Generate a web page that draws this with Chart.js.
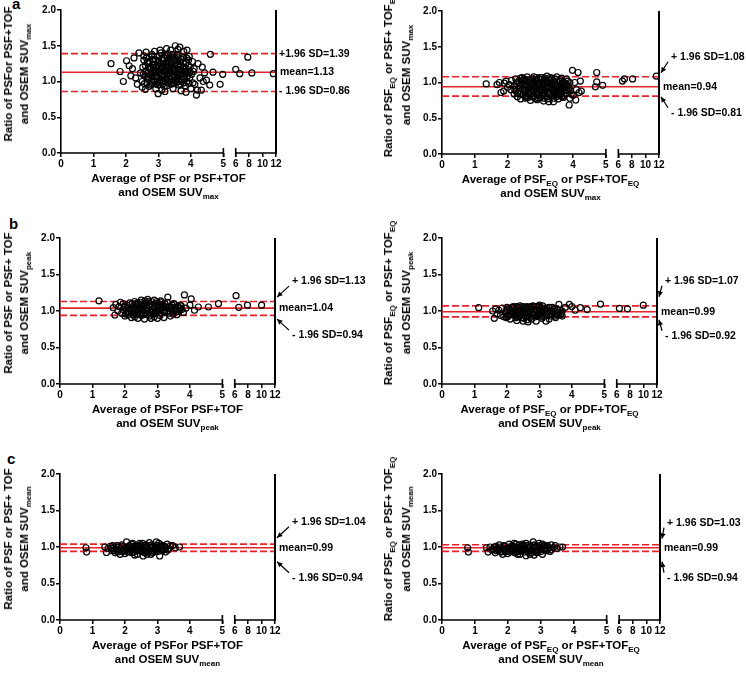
<!DOCTYPE html>
<html>
<head>
<meta charset="utf-8">
<script src="https://cdn.jsdelivr.net/npm/chart.js@4.4.1/dist/chart.umd.min.js"></script>
<style>
    body { margin: 0; background: #fff; }
    #fig { position: relative; width: 746px; height: 673px; overflow: hidden;
           font-family: "Liberation Sans", Arial, sans-serif; font-weight: bold; color: #000; }
    #fig canvas { position: absolute; }
    .xt, .yt { position: absolute; white-space: nowrap; text-align: center; font-size: 11.5px; }
    .xt { transform: translateX(-50%); line-height: 13.5px; }
    .yt { transform: translate(-50%, -50%) rotate(-90deg); line-height: 16px; }
    .yt.r { line-height: 18px; }
    sub { font-size: 8px; vertical-align: -3px; line-height: 0; }
    .lt { position: absolute; font-size: 15px; line-height: 15px; }
</style>
</head>
<body>
<div id="fig">
    <div class="lt" style="left:12px;top:-4px">a</div>
    <div class="lt" style="left:9px;top:216px">b</div>
    <div class="lt" style="left:7px;top:451px">c</div>
</div>
<script>
const xTicks = [0, 1, 2, 3, 4, 5, 6, 8, 10, 12];
const yTicks = [0, 0.5, 1, 1.5, 2];

// upper limit, mean, lower limit
const limMaxPsf = [1.39, 1.13, 0.86];
const limMaxEq = [1.08, 0.94, 0.81];
const limPeakPsf = [1.13, 1.04, 0.94];
const limPeakEq = [1.07, 0.99, 0.92];
const limMeanPsf = [1.04, 0.99, 0.94];
const limMeanEq = [1.03, 0.99, 0.94];

// [average, ratio]
const ptsMaxPsf = [
    [1.54,1.25],[1.82,1.14],[1.92,1.00],[2.02,1.29],[2.1,1.22],[2.2,1.18],[2.15,1.08],[2.25,1.33],[2.3,1.05],[2.35,0.96],
    [2.4,1.4],[2.45,1.12],[2.5,0.92],[2.55,1.36],[2.62,1.41],[2.6,0.89],[2.7,1.25],[2.75,0.95],[2.8,1.38],[2.85,1.02],
    [2.88,1.42],[2.92,0.9],[2.99,0.83],[3.05,1.44],[3.1,0.88],[3.2,0.86],[3.25,1.46],[3.3,1.39],[3.38,1.44],[3.45,0.9],
    [3.52,1.5],[3.6,1.45],[3.66,1.48],[3.7,0.87],[3.78,1.42],[3.88,1.44],[3.85,0.85],[3.95,1.35],[4.0,0.9],[4.05,1.28],
    [4.1,1.18],[4.12,0.96],[4.17,0.81],[4.2,0.88],[4.22,1.25],[4.28,1.05],[4.32,0.88],[4.35,1.2],[4.38,1.0],[4.42,1.12],
    [4.48,1.02],[4.58,0.95],[4.6,1.38],[4.68,1.13],[4.9,0.96],[4.98,1.1],
    [6.0,1.17],[6.6,1.11],[7.8,1.34],[8.4,1.12],[11.6,1.11],
    [2.5,1.0],[2.52,1.2],[2.55,1.3],[2.58,1.08],[2.62,1.15],[2.65,0.98],[2.66,1.27],[2.7,1.05],[2.72,1.34],[2.74,1.18],
    [2.78,0.97],[2.8,1.1],[2.82,1.23],[2.85,1.31],[2.88,1.0],[2.9,1.14],[2.92,1.2],[2.95,1.07],[2.97,1.35],[3.0,0.95],
    [3.02,1.27],[3.04,1.12],[3.06,1.02],[3.08,1.18],[3.1,1.32],[3.12,1.08],[3.14,0.97],[3.16,1.24],[3.18,1.14],[3.2,1.37],
    [3.22,1.03],[3.24,1.2],[3.26,0.94],[3.28,1.29],[3.3,1.1],[3.32,1.16],[3.35,1.0],[3.37,1.34],[3.4,1.22],[3.42,1.06],
    [3.44,1.13],[3.46,1.3],[3.48,0.97],[3.5,1.18],[3.52,1.25],[3.55,1.04],[3.57,1.36],[3.6,1.1],[3.62,0.95],[3.64,1.21],
    [3.67,1.28],[3.7,1.02],[3.72,1.15],[3.75,1.33],[3.78,0.98],[3.8,1.2],[3.82,1.08],[3.85,1.26],[3.88,1.0],[3.9,1.14],
    [3.93,1.3],[3.96,1.05],[3.98,1.2],[4.02,1.1],[4.06,0.98],[4.08,1.14],[2.68,1.12],[2.84,1.28],[3.0,1.16],[3.15,1.06],
    [3.34,1.26],[3.5,1.08],[3.66,1.17],[3.84,1.12],[2.96,1.0],[3.26,1.12],[3.56,0.99],[2.76,1.2],[3.44,1.38],[3.08,1.4],
    [2.53,1.1],[2.57,0.97],[2.6,1.22],[2.63,1.33],[2.67,1.04],[2.69,1.19],[2.71,0.93],[2.73,1.28],[2.77,1.08],[2.79,1.36],
    [2.81,0.99],[2.83,1.16],[2.87,1.24],[2.89,1.07],[2.91,1.3],[2.93,0.96],[2.94,1.13],[2.98,1.22],[3.01,1.05],[3.03,1.36],
    [3.05,0.98],[3.07,1.25],[3.09,1.1],[3.11,1.2],[3.13,1.29],[3.15,1.0],[3.17,1.33],[3.19,1.09],[3.21,1.17],[3.23,1.26],
    [3.25,1.04],[3.27,1.36],[3.29,0.98],[3.31,1.21],[3.33,1.07],[3.36,1.3],[3.38,1.14],[3.39,0.96],[3.41,1.27],[3.43,1.01],
    [3.45,1.2],[3.47,1.09],[3.49,1.34],[3.51,1.02],[3.53,1.14],[3.54,1.29],[3.58,1.06],[3.59,1.23],[3.61,1.33],[3.63,1.0],
    [3.65,1.12],[3.68,0.96],[3.69,1.22],[3.71,1.31],[3.73,1.07],[3.76,1.19],[3.77,1.27],[3.79,1.03],[3.81,1.14],[3.83,0.94],
    [3.86,1.18],[3.87,1.33],[3.89,1.07],[3.92,1.22],[3.94,0.97],[3.97,1.13],[2.64,1.06],[2.86,1.12],[3.03,1.21],[3.24,1.15],
    [3.46,1.16],[3.69,1.1],[2.99,1.29],[3.33,1.33],[3.18,0.93],[3.58,1.38]
];
const ptsMaxEq = [
    [1.35,0.98],[1.68,0.97],[1.75,1.0],[1.8,0.86],[1.88,0.88],[1.9,0.99],[1.95,1.02],[2.0,0.93],[2.05,0.97],[2.1,0.9],
    [2.12,1.03],[2.2,0.84],[2.25,1.05],[2.3,0.8],[2.4,0.77],[2.45,1.07],[2.55,0.78],[2.6,1.08],[2.7,0.75],[2.8,1.08],
    [2.9,0.76],[3.0,1.07],[3.1,0.74],[3.2,1.09],[3.26,0.73],[3.35,1.06],[3.4,0.73],[3.5,1.08],[3.55,0.77],[3.65,1.06],
    [3.7,0.79],[3.8,1.05],[3.88,0.685],[3.9,0.78],[3.98,1.17],[4.0,0.82],[4.05,1.0],[4.08,0.755],[4.1,0.9],[4.15,1.14],
    [4.18,0.86],[4.22,1.02],[4.25,0.88],[4.68,0.94],[4.72,1.01],[4.9,0.96],[4.72,1.14],
    [6.6,1.02],[6.9,1.05],[8.1,1.05],[11.6,1.09],
    [2.2,0.95],[2.25,0.88],[2.3,1.0],[2.35,0.92],[2.38,0.84],[2.42,0.97],[2.46,1.03],[2.5,0.89],[2.52,0.94],[2.56,0.82],
    [2.6,1.0],[2.63,0.91],[2.66,0.86],[2.68,1.04],[2.72,0.95],[2.75,0.8],[2.78,0.99],[2.8,0.88],[2.84,1.02],[2.86,0.92],
    [2.9,0.83],[2.92,0.97],[2.95,1.05],[2.98,0.89],[3.0,0.79],[3.02,0.94],[3.05,1.0],[3.08,0.86],[3.1,0.96],[3.12,1.04],
    [3.15,0.81],[3.18,0.91],[3.2,0.99],[3.23,0.87],[3.26,1.03],[3.28,0.94],[3.3,0.83],[3.33,0.98],[3.36,0.9],[3.4,1.02],
    [3.43,0.85],[3.46,0.95],[3.5,0.88],[3.53,1.0],[3.56,0.92],[3.6,0.82],[3.63,0.97],[3.66,0.89],[3.7,1.01],[3.74,0.93],
    [3.78,0.85],[3.82,0.96],[3.86,0.9],[3.9,1.0],[3.94,0.84],[2.62,0.79],[2.94,0.78],[3.22,0.77],[3.48,0.8],[2.4,1.06],
    [2.88,1.07],[3.14,1.06],[3.6,1.04],[2.7,0.9],[3.38,0.93],[3.0,0.91],[3.75,0.95],
    [2.22,0.9],[2.27,0.98],[2.31,0.86],[2.34,1.02],[2.37,0.95],[2.41,0.88],[2.44,0.99],[2.47,0.83],[2.49,0.96],[2.53,1.04],
    [2.55,0.9],[2.58,0.97],[2.61,0.85],[2.64,1.02],[2.67,0.93],[2.69,0.82],[2.71,0.99],[2.74,0.89],[2.76,1.05],[2.79,0.93],
    [2.82,0.81],[2.83,0.97],[2.87,0.87],[2.89,1.03],[2.91,0.91],[2.94,0.85],[2.97,0.99],[2.99,0.93],[3.01,1.04],[3.04,0.88],
    [3.06,0.82],[3.09,0.98],[3.11,0.9],[3.13,0.84],[3.16,1.01],[3.19,0.95],[3.21,0.8],[3.24,0.92],[3.27,0.98],[3.29,0.86],
    [3.31,1.04],[3.34,0.93],[3.37,0.82],[3.39,0.97],[3.42,0.89],[3.44,1.05],[3.47,0.92],[3.49,0.84],[3.52,0.96],[3.55,0.87],
    [3.58,1.02],[3.61,0.91],[3.64,0.85],[3.67,0.99],[3.69,0.93],[3.72,0.82],[3.76,0.98],[3.8,0.89],[3.84,1.02],[3.88,0.93],
    [3.92,0.88],[2.57,0.8],[2.85,0.78],[3.12,0.78],[3.41,0.78],[3.66,0.8],[2.5,1.05],[3.06,1.07],[3.3,1.07]
];
const ptsPeakPsf = [
    [1.2,1.14],[1.64,1.045],[1.69,0.945],[1.72,1.09],[1.78,1.0],[1.82,1.06],[1.86,1.12],[1.9,0.97],[1.95,1.1],[2.0,0.93],
    [2.1,0.95],[2.2,0.91],[2.3,1.13],[2.4,0.9],[2.5,1.15],[2.6,0.89],[2.7,1.16],[2.8,0.9],[2.9,1.15],[3.0,0.9],
    [3.1,1.14],[3.2,0.91],[3.32,1.19],[3.4,0.93],[3.5,1.1],[3.6,0.95],[3.7,1.08],[3.8,0.98],[3.83,1.22],[3.88,1.04],
    [4.0,1.08],[4.04,1.165],[4.14,1.01],[4.26,1.055],[4.57,1.055],[4.88,1.1],
    [6.2,1.21],[6.6,1.05],[7.9,1.08],[10.0,1.08],
    [1.95,1.02],[2.0,1.07],[2.05,0.98],[2.1,1.04],[2.15,1.11],[2.2,1.0],[2.25,1.06],[2.28,0.95],[2.32,1.02],[2.36,1.09],
    [2.4,0.98],[2.44,1.05],[2.48,1.12],[2.52,0.94],[2.56,1.01],[2.6,1.08],[2.64,0.97],[2.68,1.04],[2.72,1.13],[2.76,0.93],
    [2.8,1.0],[2.84,1.07],[2.88,0.96],[2.92,1.03],[2.96,1.1],[3.0,0.99],[3.04,1.05],[3.08,0.94],[3.12,1.02],[3.16,1.09],
    [3.2,0.98],[3.25,1.05],[3.3,1.12],[3.35,0.97],[3.4,1.03],[3.45,1.08],[3.5,1.0],[3.55,1.05],[3.6,1.02],[3.65,0.99],
    [3.7,1.04],[3.75,1.02],[2.3,0.92],[2.62,1.14],[2.9,0.92],[3.1,1.12],[2.5,1.03],[2.78,1.1],[3.22,1.01],[2.42,1.1],
    [1.98,1.05],[2.02,0.96],[2.07,1.08],[2.12,0.99],[2.17,1.03],[2.22,1.1],[2.27,0.98],[2.3,1.04],[2.34,0.96],[2.38,1.11],
    [2.42,1.01],[2.46,0.95],[2.5,1.08],[2.54,1.03],[2.58,0.96],[2.62,1.11],[2.66,1.01],[2.7,0.95],[2.74,1.07],[2.78,0.98],
    [2.82,1.13],[2.86,1.02],[2.9,1.06],[2.94,0.97],[2.98,1.13],[3.02,1.02],[3.06,1.09],[3.1,0.97],[3.14,1.05],[3.18,1.0],
    [3.23,1.1],[3.28,0.99],[3.33,1.06],[3.38,1.0],[3.43,1.05],[3.48,0.96],[3.53,1.09],[3.58,0.99],[3.63,1.06],[3.68,1.01],
    [3.73,1.07],[2.56,1.06],[2.84,0.99],[3.0,1.07],[2.26,1.01],[3.2,1.05]
];
const ptsPeakEq = [
    [1.13,1.045],[1.56,1.0],[1.61,0.9],[1.65,1.03],[1.7,0.96],[1.75,1.01],[1.8,0.94],[1.85,1.04],[1.9,0.92],[2.0,1.05],
    [2.1,0.89],[2.2,1.06],[2.3,0.87],[2.4,1.07],[2.5,0.86],[2.6,1.06],[2.65,0.85],[2.8,1.07],[2.9,0.86],[3.0,1.08],
    [3.2,0.86],[3.1,1.07],[3.3,0.89],[3.4,1.05],[3.5,0.91],[3.6,1.09],[3.7,0.93],[3.8,1.05],[3.92,1.09],[4.0,1.06],
    [4.1,1.01],[4.26,1.045],[4.47,1.02],[4.88,1.095],
    [6.4,1.035],[7.6,1.03],[9.96,1.08],
    [1.95,0.98],[2.0,1.02],[2.05,0.94],[2.1,1.0],[2.15,1.05],[2.2,0.96],[2.25,1.02],[2.28,0.91],[2.32,0.98],[2.36,1.04],
    [2.4,0.94],[2.44,1.0],[2.48,1.06],[2.52,0.9],[2.56,0.97],[2.6,1.03],[2.64,0.93],[2.68,1.0],[2.72,1.06],[2.76,0.89],
    [2.8,0.96],[2.84,1.02],[2.88,0.92],[2.92,0.99],[2.96,1.05],[3.0,0.95],[3.04,1.01],[3.08,0.9],[3.12,0.98],[3.16,1.04],
    [3.2,0.94],[3.25,1.0],[3.3,1.05],[3.35,0.93],[3.4,0.99],[3.45,1.03],[3.5,0.96],[3.55,1.01],[3.6,0.98],[3.65,0.95],
    [3.7,1.0],[2.3,1.06],[2.62,0.88],[2.9,1.06],[3.1,0.92],[2.5,0.99],[2.78,1.03],[3.22,0.97],[2.42,1.02],[1.98,0.91],
    [1.98,1.0],[2.02,0.92],[2.07,1.03],[2.12,0.95],[2.17,0.99],[2.22,1.05],[2.27,0.93],[2.3,0.99],[2.34,0.92],[2.38,1.05],
    [2.42,0.97],[2.46,0.91],[2.5,1.03],[2.54,0.98],[2.58,0.92],[2.62,1.05],[2.66,0.97],[2.7,0.91],[2.74,1.02],[2.78,0.94],
    [2.82,1.06],[2.86,0.98],[2.9,1.01],[2.94,0.93],[2.98,1.06],[3.02,0.97],[3.06,1.04],[3.1,0.94],[3.14,1.0],[3.18,0.96],
    [3.23,1.04],[3.28,0.95],[3.33,1.01],[3.38,0.96],[3.43,1.0],[3.48,0.93],[3.53,1.03],[3.58,0.95],[3.63,1.01],[3.68,0.97],
    [2.56,1.01],[2.84,0.95],[3.0,1.02],[2.26,0.97],[3.2,1.0]
];
const ptsMeanPsf = [
    [0.8,0.99],[0.82,0.93],[1.38,1.0],[1.43,0.925],[1.48,0.98],[1.55,1.01],[1.6,0.95],[1.65,0.99],[1.7,0.92],[1.75,1.02],
    [1.8,0.96],[1.85,0.9],[1.9,1.03],[1.95,0.97],[2.0,0.91],[2.05,1.07],[2.1,1.0],[2.15,0.93],[2.2,1.04],[2.25,0.97],
    [2.3,0.89],[2.35,1.02],[2.4,0.95],[2.45,1.05],[2.5,0.99],[2.56,0.877],[2.6,0.92],[2.65,1.03],[2.7,0.97],[2.75,1.06],
    [2.8,0.9],[2.85,1.0],[2.9,0.94],[2.97,1.07],[3.0,0.98],[3.07,0.877],[3.1,1.03],[3.15,0.95],[3.2,1.01],[3.25,0.93],
    [3.3,1.04],[3.35,0.98],[3.4,1.02],[3.47,1.02],[3.55,0.99],[3.68,1.0],[1.62,1.02],[1.72,0.97],[1.92,0.94],[2.02,1.0],
    [2.12,0.97],[2.22,0.92],[2.32,0.96],[2.42,1.0],[2.52,0.94],[2.62,0.98],[2.72,0.93],[2.82,1.03],[2.92,0.98],[3.02,0.94],
    [3.12,0.99],[2.18,1.01],[2.48,1.03],[2.78,0.99],[3.22,0.97],[1.82,1.0],[2.38,0.9],[2.68,0.9],
    [1.58,0.98],[1.66,0.95],[1.74,1.0],[1.78,0.93],[1.86,0.98],[1.9,1.01],[1.98,0.95],[2.06,0.98],[2.08,0.93],[2.14,1.02],
    [2.2,0.96],[2.26,1.01],[2.28,0.93],[2.36,0.98],[2.44,0.96],[2.46,1.01],[2.54,0.97],[2.58,1.02],[2.64,0.95],[2.68,1.0],
    [2.74,0.96],[2.76,1.02],[2.84,0.95],[2.88,1.01],[2.94,0.96],[2.98,1.02],[3.04,0.97],[3.08,1.01],[3.14,0.96],[3.18,1.02],
    [3.26,0.99],[3.32,0.96],[2.54,1.05],[2.86,0.92],[2.24,1.05],[3.04,1.05]
];
const ptsMeanEq = [
    [0.78,0.99],[0.8,0.93],[1.35,0.99],[1.4,0.93],[1.46,1.0],[1.52,0.96],[1.58,1.0],[1.62,0.92],[1.68,0.98],[1.74,1.03],
    [1.78,0.94],[1.84,0.9],[1.88,1.02],[1.94,0.97],[1.99,0.91],[2.04,1.04],[2.09,0.99],[2.14,0.94],[2.19,1.05],[2.24,0.96],
    [2.3,0.9],[2.34,1.03],[2.39,0.94],[2.44,1.04],[2.49,0.98],[2.55,0.88],[2.6,0.93],[2.66,1.03],[2.71,0.96],[2.77,1.07],
    [2.8,0.89],[2.84,1.0],[2.9,0.93],[2.95,1.05],[3.0,0.97],[3.05,0.9],[3.1,1.02],[3.16,0.95],[3.22,1.01],[3.28,0.94],
    [3.32,1.03],[3.38,0.99],[3.44,1.02],[3.5,0.98],[3.58,1.0],[3.66,1.0],[1.64,1.01],[1.72,0.96],[1.92,0.93],[2.01,1.0],
    [2.11,0.97],[2.21,0.92],[2.31,0.97],[2.41,1.0],[2.51,0.93],[2.61,0.99],[2.71,0.92],[2.81,1.03],[2.91,0.99],[3.01,0.94],
    [3.11,0.98],[2.17,1.01],[2.47,1.02],[2.77,0.99],[3.21,0.97],[1.82,0.99],[2.37,0.9],[2.67,0.9],
    [1.56,0.97],[1.66,0.95],[1.76,1.0],[1.8,0.93],[1.86,0.97],[1.9,1.01],[1.97,0.95],[2.05,0.98],[2.07,0.93],[2.13,1.02],
    [2.2,0.96],[2.26,1.0],[2.28,0.93],[2.35,0.98],[2.43,0.96],[2.45,1.01],[2.53,0.97],[2.57,1.02],[2.63,0.95],[2.69,1.0],
    [2.73,0.96],[2.75,1.02],[2.83,0.95],[2.87,1.01],[2.93,0.96],[2.97,1.02],[3.03,0.97],[3.07,1.01],[3.13,0.96],[3.19,1.02],
    [3.25,0.99],[3.31,0.96],[2.55,1.05],[2.87,0.92],[2.25,1.04],[3.05,1.04]
];

const RED = '#e4242a';
Chart.defaults.font.family = '"Liberation Sans", Arial, sans-serif';
Chart.defaults.font.size = 10;
Chart.defaults.font.weight = 'bold';
Chart.defaults.color = '#000';

// broken x axis: 0-5 at full width, 6-12 squeezed after a gap
function toAxis(v) {
    return v <= 5 ? v : 5.38 + (v - 6) * 0.2067;
}
const AXIS_MAX = toAxis(12);

const panels = [
    {pts: ptsMaxPsf, lim: limMaxPsf, cell: [0, 0, 373, 225], box: [61, 10, 276, 153],
     plus: '+1.96 SD=', arrows: false,
     ytitle: 'Ratio of PSFor PSF+TOF<br>and OSEM SUV<sub>max</sub>', ytx: 16,
     xtitle: 'Average of PSF or PSF+TOF<br>and OSEM SUV<sub>max</sub>'},
    {pts: ptsMaxEq, lim: limMaxEq, cell: [373, 0, 373, 225], box: [442, 11, 659, 154],
     plus: '+ 1.96 SD=', arrows: true, tx: 12, up: 30, lo: 26,
     ytitle: 'Ratio of PSF<sub>EQ</sub> or PSF+ TOF<sub>EQ</sub><br>and OSEM SUV<sub>max</sub>', ytx: 397,
     xtitle: 'Average of PSF<sub>EQ</sub> or PSF+TOF<sub>EQ</sub><br>and OSEM SUV<sub>max</sub>'},
    {pts: ptsPeakPsf, lim: limPeakPsf, cell: [0, 225, 373, 225], box: [60, 238, 275, 384],
     plus: '+ 1.96 SD=', arrows: true, tx: 17, up: 27, lo: 27,
     ytitle: 'Ratio of PSF or PSF+ TOF<br>and OSEM SUV<sub>peak</sub>', ytx: 16,
     xtitle: 'Average of PSFor PSF+TOF<br>and OSEM SUV<sub>peak</sub>'},
    {pts: ptsPeakEq, lim: limPeakEq, cell: [373, 225, 373, 225], box: [442, 238, 657, 384],
     plus: '+ 1.96 SD=', arrows: true, tx: 8, up: 31, lo: 24,
     ytitle: 'Ratio of PSF<sub>EQ</sub> or PSF+ TOF<sub>EQ</sub><br>and OSEM SUV<sub>peak</sub>', ytx: 397,
     xtitle: 'Average of PSF<sub>EQ</sub> or PDF+TOF<sub>EQ</sub><br>and OSEM SUV<sub>peak</sub>'},
    {pts: ptsMeanPsf, lim: limMeanPsf, cell: [0, 450, 373, 223], box: [60, 474, 275, 620],
     plus: '+ 1.96 SD=', arrows: true, tx: 17, up: 26, lo: 30,
     ytitle: 'Ratio of PSF or PSF+ TOF<br>and OSEM SUV<sub>mean</sub>', ytx: 16,
     xtitle: 'Average of PSFor PSF+TOF<br>and OSEM SUV<sub>mean</sub>'},
    {pts: ptsMeanEq, lim: limMeanEq, cell: [373, 450, 373, 223], box: [442, 474, 660, 620],
     plus: '+ 1.96 SD=', arrows: true, tx: 7, up: 25, lo: 30,
     ytitle: 'Ratio of PSF<sub>EQ</sub> or PSF+ TOF<sub>EQ</sub><br>and OSEM SUV<sub>mean</sub>', ytx: 397,
     xtitle: 'Average of PSF<sub>EQ</sub> or PSF+TOF<sub>EQ</sub><br>and OSEM SUV<sub>mean</sub>'}
];

function arrow(ctx, x0, y0, x1, y1) {
    ctx.lineWidth = 1.2;
    ctx.beginPath();
    ctx.moveTo(x0, y0);
    ctx.lineTo(x1, y1);
    ctx.stroke();
    const ang = Math.atan2(y1 - y0, x1 - x0);
    ctx.beginPath();
    ctx.moveTo(x1, y1);
    ctx.lineTo(x1 - 6 * Math.cos(ang - 0.45), y1 - 6 * Math.sin(ang - 0.45));
    ctx.lineTo(x1 - 6 * Math.cos(ang + 0.45), y1 - 6 * Math.sin(ang + 0.45));
    ctx.closePath();
    ctx.fill();
}

const decor = {
    id: 'decor',
    afterDraw(chart, args, o) {
        const {ctx, chartArea: a, scales: {x, y}} = chart;
        const x5 = x.getPixelForValue(5);
        const x6 = x.getPixelForValue(toAxis(6));
        const yb = y.getPixelForValue(0);
        ctx.save();
        ctx.strokeStyle = '#000';
        ctx.fillStyle = '#000';
        ctx.lineWidth = 1.6;
        ctx.beginPath();
        ctx.moveTo(a.left, yb); ctx.lineTo(x5, yb);
        ctx.moveTo(x6, yb); ctx.lineTo(a.right, yb);
        ctx.moveTo(x5, yb - 5); ctx.lineTo(x5, yb + 4);
        ctx.moveTo(x6, yb - 5); ctx.lineTo(x6, yb + 4);
        ctx.stroke();
        ctx.lineWidth = 2;
        ctx.beginPath();
        ctx.moveTo(a.right, a.top);
        ctx.lineTo(a.right, yb + 1);
        ctx.stroke();

        ctx.font = 'bold 10.5px "Liberation Sans", Arial, sans-serif';
        ctx.textBaseline = 'middle';
        ctx.textAlign = 'left';
        const [up, mid, lo] = o.lim.map(v => y.getPixelForValue(v));
        ctx.fillText('mean=' + o.lim[1].toFixed(2), a.right + 4, mid);
        if (!o.arrows) {
            ctx.fillText(o.plus + o.lim[0].toFixed(2), a.right + 3, up);
            ctx.fillText('- 1.96 SD=' + o.lim[2].toFixed(2), a.right + 3, lo);
        } else {
            const ty1 = mid - o.up, ty2 = mid + o.lo;
            ctx.fillText(o.plus + o.lim[0].toFixed(2), a.right + o.tx, ty1);
            ctx.fillText('- 1.96 SD=' + o.lim[2].toFixed(2), a.right + o.tx, ty2);
            arrow(ctx, a.right + o.tx - 3, ty1 + 5, a.right + 2, ty1 + 16);
            arrow(ctx, a.right + o.tx - 3, ty2 - 5, a.right + 2, ty2 - 16);
        }
        ctx.restore();
    }
};

const fig = document.getElementById('fig');

panels.forEach(function (p) {
    const [cx, cy, cw, ch] = p.cell;
    const [L, T, R, B] = p.box;
    const yW = 30, xH = 20;

    const cv = document.createElement('canvas');
    cv.width = cw;
    cv.height = ch;
    cv.style.left = cx + 'px';
    cv.style.top = cy + 'px';
    fig.appendChild(cv);

    const yt = document.createElement('div');
    yt.className = 'yt' + (cx > 0 ? ' r' : '');
    yt.style.left = p.ytx + 'px';
    yt.style.top = ((T + B) / 2 - 8) + 'px';
    yt.innerHTML = p.ytitle;
    fig.appendChild(yt);

    const xt = document.createElement('div');
    xt.className = 'xt';
    xt.style.left = ((L + R) / 2) + 'px';
    xt.style.top = (B + 19) + 'px';
    xt.innerHTML = p.xtitle;
    fig.appendChild(xt);

    const hline = (v, dash) => ({
        type: 'line',
        data: [{x: 0, y: v}, {x: AXIS_MAX, y: v}],
        borderColor: RED,
        borderWidth: 1.6,
        borderDash: dash,
        pointRadius: 0,
        order: 2
    });

    new Chart(cv, {
        type: 'scatter',
        data: {
            datasets: [
                hline(p.lim[0], [7, 3]),
                hline(p.lim[1], []),
                hline(p.lim[2], [7, 3]),
                {
                    data: p.pts.map(d => ({x: toAxis(d[0]), y: d[1]})),
                    pointRadius: 3,
                    pointBorderWidth: 1.2,
                    borderColor: '#000',
                    backgroundColor: 'rgba(0,0,0,0)',
                    order: 1
                }
            ]
        },
        options: {
            responsive: false,
            animation: false,
            events: [],
            layout: {
                padding: {left: L - cx - yW, top: T - cy, right: cx + cw - R, bottom: cy + ch - B - xH}
            },
            plugins: {
                legend: {display: false},
                tooltip: {enabled: false},
                decor: {lim: p.lim, plus: p.plus, arrows: p.arrows, tx: p.tx, up: p.up, lo: p.lo}
            },
            scales: {
                x: {
                    type: 'linear',
                    min: 0,
                    max: AXIS_MAX,
                    afterFit: s => { s.height = xH; },
                    afterBuildTicks: s => { s.ticks = xTicks.map(v => ({value: toAxis(v)})); },
                    ticks: {autoSkip: false, maxRotation: 0, padding: 1,
                            callback: (v, i) => xTicks[i]},
                    grid: {drawOnChartArea: false, color: '#000', lineWidth: 1.5, tickLength: 4},
                    border: {display: false}
                },
                y: {
                    min: 0,
                    max: 2,
                    afterFit: s => { s.width = yW; },
                    afterBuildTicks: s => { s.ticks = yTicks.map(v => ({value: v})); },
                    ticks: {padding: 1, callback: v => v.toFixed(1)},
                    grid: {drawOnChartArea: false, color: '#000', lineWidth: 1.5, tickLength: 4},
                    border: {display: true, color: '#000', width: 1.6}
                }
            }
        },
        plugins: [decor]
    });
});
</script>
</body>
</html>
